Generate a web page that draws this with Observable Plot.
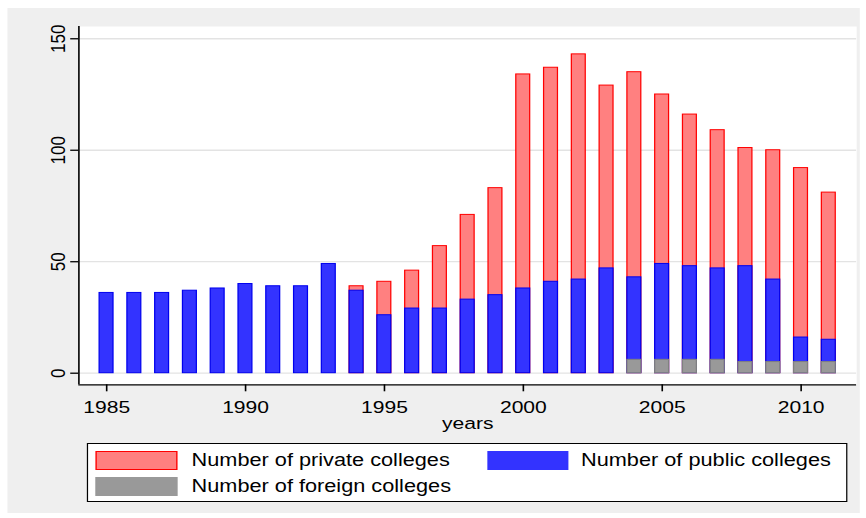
<!DOCTYPE html>
<html>
<head>
<meta charset="utf-8">
<script src="https://cdn.jsdelivr.net/npm/d3@7"></script>
<script src="https://cdn.jsdelivr.net/npm/@observablehq/plot@0.6"></script>
<style>
  html, body { margin: 0; padding: 0; background: #ffffff; }
  /* the figure is laid out 698px wide and widened to 866px */
  #fig {
    position: absolute; left: 0; top: 0; width: 698px; height: 518px;
    transform: scaleX(1.24069); transform-origin: 0 0;
    font-family: "Liberation Sans", Arial, sans-serif;
  }
  #panel { position: absolute; left: 6.4px; top: 8px; width: 686.7px; height: 505px; background: #efefef; }
  #chart { position: absolute; left: 0; top: 0; }
  .legend-box { position: absolute; box-sizing: border-box; border: 1px solid #000; background: #fff; }
  .swatch { position: absolute; box-sizing: border-box; border-width: 1px; border-style: solid; }
  .label { position: absolute; font-size: 17.5px; line-height: 17.5px; white-space: nowrap; color: #000; }
</style>
</head>
<body>
<div id="fig">
  <div id="panel"></div>
  <div id="chart"></div>
  <div id="legend"></div>
</div>
<script>
// Colleges opened per year
const years = [1985, 1986, 1987, 1988, 1989, 1990, 1991, 1992, 1993, 1994, 1995, 1996, 1997, 1998,
               1999, 2000, 2001, 2002, 2003, 2004, 2005, 2006, 2007, 2008, 2009, 2010, 2011];
const privateColleges = [null, null, null, null, null, null, null, null, null, 39, 41, 46, 57, 71,
                         83, 134, 137, 143, 129, 135, 125, 116, 109, 101, 100, 92, 81];
const publicColleges = [36, 36, 36, 37, 38, 40, 39, 39, 49, 37, 26, 29, 29, 33,
                        35, 38, 41, 42, 47, 43, 49, 48, 47, 48, 42, 16, 15];
const foreignColleges = [null, null, null, null, null, null, null, null, null, null, null, null, null, null,
                         null, null, null, null, null, 6, 6, 6, 6, 5, 5, 5, 5];

const seriesNames = ["Number of private colleges", "Number of public colleges", "Number of foreign colleges"];
const xTicks = [1985, 1990, 1995, 2000, 2005, 2010];
const yTicks = [0, 50, 100, 150];
const xTitle = "years";

// styles per series
const fills = ["#ff8080", "#3333ff", "#999999"];
const strokes = ["#ff0000", "#0000ee", "#808080"];

const seriesValues = [privateColleges, publicColleges, foreignColleges];
const rows = (vals) => years.map((year, i) => ({year, value: vals[i]})).filter(d => d.value != null);

const xDomain = [1984, 2012];
const yDomain = [-5.2, 155.5];
const halfBar = 0.25;

const barMarks = seriesValues.map((vals, k) =>
  Plot.rectY(rows(vals), {
    x1: d => d.year - halfBar,
    x2: d => d.year + halfBar,
    y1: 0,
    y2: "value",
    fill: fills[k],
    stroke: strokes[k],
    strokeWidth: 1
  })
);

const chart = Plot.plot({
  width: 698,
  height: 440,
  marginLeft: 63.1,
  marginRight: 8,
  marginTop: 26,
  marginBottom: 55.7,
  style: {background: "transparent", fontFamily: "'Liberation Sans', Arial, sans-serif", fontSize: "17px", color: "#000"},
  x: {domain: xDomain},
  y: {domain: yDomain},
  marks: [
    Plot.frame({fill: "#ffffff", stroke: null}),
    Plot.ruleY(yTicks, {stroke: "#e3e3e3", strokeWidth: 1.3}),
    ...barMarks,
    Plot.ruleX([xDomain[0]], {stroke: "#000", strokeWidth: 1.3}),
    Plot.ruleY([yDomain[0]], {stroke: "#000", strokeWidth: 1.3}),
    Plot.axisX({ticks: xTicks, tickSize: 7, tickPadding: 8.7, tickFormat: d => String(d),
                fontSize: 17, strokeWidth: 1.3, label: null}),
    Plot.axisY({ticks: yTicks, tickSize: 6.5, tickPadding: 5, tickRotate: -90, tickFormat: d => String(d),
                fontSize: 17, strokeWidth: 1.3, label: null}),
    Plot.text([xTitle], {frameAnchor: "bottom", dy: 44.4, lineAnchor: "bottom", fontSize: 17, text: d => d})
  ]
});
document.getElementById("chart").appendChild(chart);

// legend below the chart
const legend = document.getElementById("legend");
const box = document.createElement("div");
box.className = "legend-box";
Object.assign(box.style, {left: "69.7px", top: "443px", width: "613.8px", height: "59px"});
legend.appendChild(box);

const legendSlots = [
  {swatchLeft: 77.1, labelLeft: 154.4, top: 451},
  {swatchLeft: 392.9, labelLeft: 468.3, top: 451},
  {swatchLeft: 77.1, labelLeft: 154.4, top: 477}
];
seriesNames.forEach((name, k) => {
  const slot = legendSlots[k];
  const sw = document.createElement("div");
  sw.className = "swatch";
  Object.assign(sw.style, {
    left: slot.swatchLeft + "px", top: slot.top + "px", width: "65.5px", height: "19px",
    background: fills[k], borderColor: k === 0 ? strokes[k] : fills[k]
  });
  legend.appendChild(sw);
  const lab = document.createElement("div");
  lab.className = "label";
  lab.textContent = name;
  Object.assign(lab.style, {left: slot.labelLeft + "px", top: (slot.top + 0.8) + "px"});
  legend.appendChild(lab);
});
</script>
</body>
</html>
